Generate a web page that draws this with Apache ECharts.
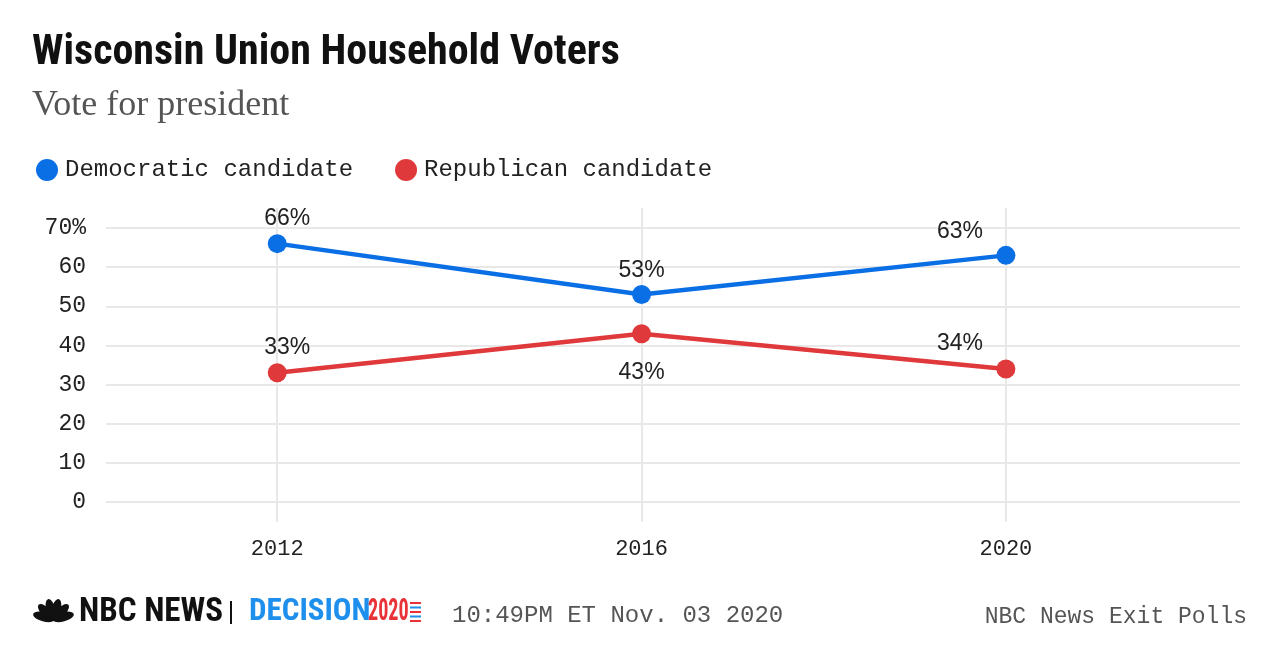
<!DOCTYPE html>
<html>
<head>
<meta charset="utf-8">
<script src="https://cdn.jsdelivr.net/npm/echarts@6/dist/echarts.min.js"></script>
<style>
  html, body { margin: 0; padding: 0; background: #fff; }
  #chart { width: 1280px; height: 672px; }
</style>
</head>
<body>
<div id="chart"></div>
<script>
// data
const years = [2012, 2016, 2020];
const democratic = [66, 53, 63];
const republican = [33, 43, 34];
const yTicks = [0, 10, 20, 30, 40, 50, 60, 70];

const seriesNames = ['Democratic candidate', 'Republican candidate'];
const colors = ['#0a6fe4', '#e0393b'];

// label placement per point (styling, not data)
const demLabelPos = [['top', [10, 1]], ['top', [0, 2]], ['top', [-46, 2]]];
const repLabelPos = [['top', [10, 1]], ['bottom', [0, 13]], ['top', [-46, 1]]];

const monoFont = '"Liberation Mono", "DejaVu Sans Mono", monospace';
const sansFont = '"Liberation Sans", Arial, sans-serif';
const condFont = '"Roboto Condensed", "Liberation Sans Narrow", "Liberation Sans", sans-serif';

function buildPoints(values, placement) {
    return values.map((v, i) => ({
        value: [years[i], v],
        label: {
            position: placement[i][0],
            offset: placement[i][1]
        }
    }));
}

const chart = echarts.init(document.getElementById('chart'));

chart.setOption({
    backgroundColor: '#fff',
    animation: false,
    color: colors,
    grid: { left: 106, right: 40, top: 208, bottom: 150, containLabel: false },
    legend: {
        left: 31,
        top: 153,
        icon: 'circle',
        itemWidth: 22,
        itemHeight: 22,
        itemGap: 42,
        data: seriesNames,
        textStyle: {
            fontFamily: monoFont,
            fontSize: 24,
            color: '#222',
            padding: [0, 0, 0, 2]
        }
    },
    xAxis: {
        type: 'value',
        min: 2010.12,
        max: 2022.57,
        axisLine: { show: false },
        axisTick: { show: false, customValues: years },
        splitLine: { show: true, lineStyle: { color: '#e8e8e8', width: 2 } },
        axisLabel: {
            customValues: years,
            margin: 16,
            fontFamily: monoFont,
            fontSize: 22,
            color: '#222',
            formatter: v => String(v)
        }
    },
    yAxis: {
        type: 'value',
        min: -5.1,
        max: 75.1,
        axisLine: { show: false },
        axisTick: { show: false, customValues: yTicks },
        splitLine: { show: true, lineStyle: { color: '#e8e8e8', width: 2 } },
        axisLabel: {
            customValues: yTicks,
            margin: 20,
            fontFamily: monoFont,
            fontSize: 23,
            color: '#222',
            formatter: v => (v === 70 ? v + '%' : String(v))
        }
    },
    series: [
        {
            name: seriesNames[0],
            type: 'line',
            data: buildPoints(democratic, demLabelPos),
            symbol: 'circle',
            symbolSize: 19,
            lineStyle: { width: 4.5 },
            label: {
                show: true,
                fontFamily: sansFont,
                fontSize: 23,
                color: '#222',
                formatter: p => p.value[1] + '%'
            }
        },
        {
            name: seriesNames[1],
            type: 'line',
            data: buildPoints(republican, repLabelPos),
            symbol: 'circle',
            symbolSize: 19,
            lineStyle: { width: 4.5 },
            label: {
                show: true,
                fontFamily: sansFont,
                fontSize: 23,
                color: '#222',
                formatter: p => p.value[1] + '%'
            }
        }
    ],
    graphic: [
        {
            type: 'text',
            left: 32, top: 32,
            style: {
                text: 'Wisconsin Union Household Voters',
                font: 'bold 42px ' + condFont,
                fill: '#111'
            }
        },
        {
            type: 'text',
            left: 32, top: 88,
            style: {
                text: 'Vote for president',
                font: '36px "Liberation Serif", "DejaVu Serif", serif',
                fill: '#555'
            }
        },
        // footer: NBC peacock
        {
            type: 'group',
            left: 32, top: 598,
            children: [0, 1, 2, 3, 4, 5].map(i => {
                const a = (165 - i * 30) * Math.PI / 180;
                return {
                    type: 'ellipse',
                    shape: { cx: 0, cy: 0, rx: 4.6, ry: 11 },
                    x: 20 + 10 * Math.cos(a),
                    y: 22 - 10 * Math.sin(a),
                    rotation: a - Math.PI / 2,
                    style: { fill: '#111' }
                };
            })
        },
        {
            type: 'text',
            left: 79, top: 596,
            style: {
                text: 'NBC NEWS',
                font: 'bold 33px ' + condFont,
                fill: '#111'
            }
        },
        {
            type: 'rect',
            shape: { x: 230, y: 601, width: 2, height: 23 },
            style: { fill: '#111' }
        },
        {
            type: 'text',
            x: 249, y: 597,
            style: {
                text: 'DECISION',
                font: 'bold 31px ' + condFont,
                fill: '#1e8fec'
            }
        },
        {
            type: 'text',
            x: 368, y: 597,
            scaleX: 0.65,
            style: {
                text: '2020',
                font: 'bold 31px ' + condFont,
                fill: '#ea3339'
            }
        },
        {
            type: 'group',
            left: 410, top: 602,
            children: [0, 1, 2, 3, 4].map(i => ({
                type: 'rect',
                shape: { x: 0, y: i * 4.5, width: 11, height: 2 },
                style: { fill: i % 2 ? '#1e8fec' : '#ea3339' }
            }))
        },
        {
            type: 'text',
            left: 452, top: 604,
            style: {
                text: '10:49PM ET Nov. 03 2020',
                font: '24px ' + monoFont,
                fill: '#555'
            }
        },
        {
            type: 'text',
            right: 33, top: 605,
            style: {
                text: 'NBC News Exit Polls',
                font: '23px ' + monoFont,
                fill: '#555'
            }
        }
    ]
});
</script>
</body>
</html>
